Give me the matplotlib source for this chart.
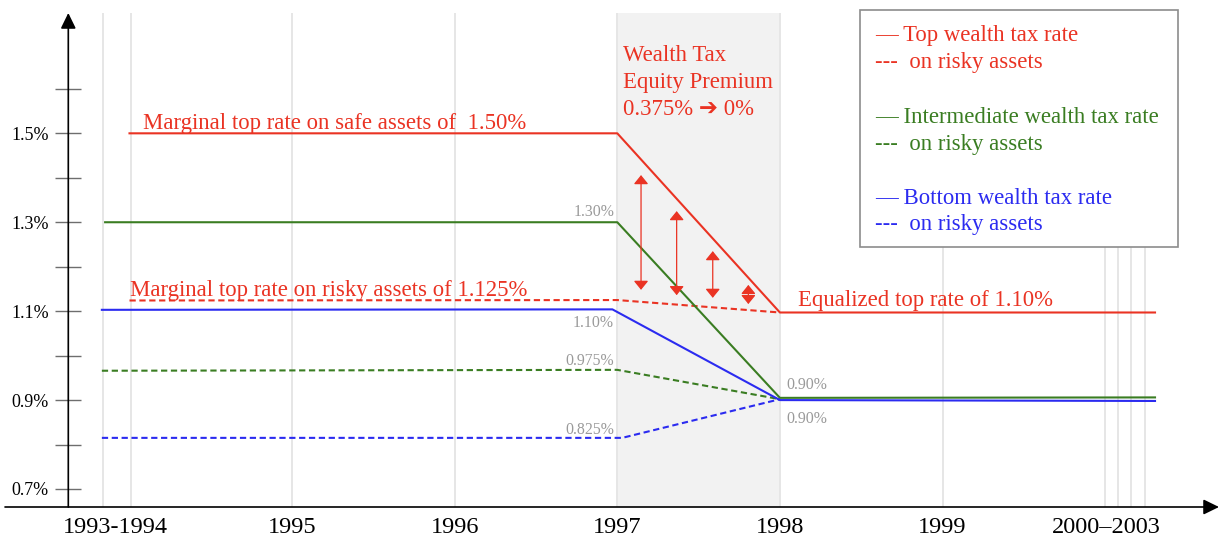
import matplotlib
matplotlib.use("Agg")
import matplotlib.pyplot as plt
from matplotlib.patches import Rectangle

plt.rcParams.update({
    "font.family": ["Liberation Serif", "DejaVu Sans"],
    "lines.scale_dashes": False,
})

# ---------------- data ----------------
RED, GREEN, BLUE = "#EA3323", "#3A7D22", "#2B2BF0"
GREY_TXT = "#9a9a9a"

tick_pos = [1993.915, 1995, 1996, 1997, 1998, 1999, 2000.01]
tick_labels = ["1993-1994", "1995", "1996", "1997", "1998", "1999", "2000\u20132003"]
grid_x = [1993.835, 1994.008, 1995, 1996, 1997, 1998, 1999, 2000, 2000.08, 2000.16, 2000.243]

y_ticks = [0.7, 0.8, 0.9, 1.0, 1.1, 1.2, 1.3, 1.4, 1.5, 1.6]
y_labels = ["0.7%", "", "0.9%", "", "1.1%", "", "1.3%", "", "1.5%", ""]

top_safe_x = [1994.0, 1997.0, 1998.0, 2000.307]
top_safe_y = [1.50, 1.50, 1.097, 1.097]
top_risky_x = [1994.0, 1997.0, 1998.0]
top_risky_y = [1.124, 1.125, 1.097]

mid_safe_x = [1993.85, 1997.0, 1998.0, 2000.307]
mid_safe_y = [1.30, 1.30, 0.905, 0.906]
mid_risky_x = [1993.83, 1997.0, 1998.0]
mid_risky_y = [0.966, 0.968, 0.902]

bot_safe_x = [1993.83, 1996.97, 1998.0, 2000.307]
bot_safe_y = [1.103, 1.104, 0.900, 0.898]
bot_risky_x = [1993.83, 1997.03, 1998.0]
bot_risky_y = [0.815, 0.815, 0.902]

# equity premium arrows (x, top, bottom)
arrow_x = [1997.146, 1997.365, 1997.587, 1997.806]
arrow_top = [1.406, 1.325, 1.235, 1.159]
arrow_bot = [1.148, 1.136, 1.130, 1.116]

# ---------------- figure ----------------
W, H = 1219, 541
fig = plt.figure(figsize=(W / 100, H / 100), dpi=100)
ax_l, ax_r, ax_b, ax_t = 68.3, 1219, 507, 13
ax = fig.add_axes([ax_l / W, (H - ax_b) / H, (ax_r - ax_l) / W, (ax_b - ax_t) / H])

px_year = 162.6
x0 = 1997 + (ax_l - 617.3) / px_year
x1 = 1997 + (ax_r - 617.3) / px_year
px_pct = 444.6
y0 = 0.7 - (ax_b - 489) / px_pct
y1 = 0.7 + (489 - ax_t) / px_pct
ax.set_xlim(x0, x1)
ax.set_ylim(y0, y1)
for s in ax.spines.values():
    s.set_visible(False)

# shaded transition year and gridlines
ax.axvspan(1997, 1998, color="#f2f2f2", zorder=0, lw=0)
for gx in grid_x:
    ax.axvline(gx, color="#e6e6e6", lw=1.4, zorder=0.5)

# axes with arrows
ax.annotate("", xy=(0, 1.0), xytext=(0, 0), xycoords="axes fraction",
            arrowprops=dict(arrowstyle="-|>,head_length=0.47,head_width=0.23",
                            mutation_scale=20, color="black", lw=1.2,
                            shrinkA=0, shrinkB=0), annotation_clip=False)
ax.annotate("", xy=(1.0, 0), xytext=((5 - ax_l) / (ax_r - ax_l), 0), xycoords="axes fraction",
            arrowprops=dict(arrowstyle="-|>,head_length=0.47,head_width=0.23",
                            mutation_scale=20, color="black", lw=1.2,
                            shrinkA=0, shrinkB=0), annotation_clip=False)

ax.set_yticks(y_ticks)
ax.set_yticklabels(y_labels)
ax.tick_params(axis="y", direction="inout", length=19.4, width=1.0, color="#6e6e6e",
               labelsize=13, pad=4.4)
ax.set_xticks(tick_pos)
ax.set_xticklabels(tick_labels)
ax.tick_params(axis="x", length=0, labelsize=17.5, pad=7)

# lines
lw = 1.5
dash = (4.5, 2.6)
ax.plot(top_safe_x, top_safe_y, color=RED, lw=lw, zorder=3)
ax.plot(top_risky_x, top_risky_y, color=RED, lw=lw, ls="--", dashes=dash, zorder=3)
ax.plot(mid_safe_x, mid_safe_y, color=GREEN, lw=lw, zorder=3)
ax.plot(mid_risky_x, mid_risky_y, color=GREEN, lw=lw, ls="--", dashes=dash, zorder=3)
ax.plot(bot_safe_x, bot_safe_y, color=BLUE, lw=lw, zorder=3)
ax.plot(bot_risky_x, bot_risky_y, color=BLUE, lw=lw, ls="--", dashes=dash, zorder=3)

for xa, yt, yb in zip(arrow_x, arrow_top, arrow_bot):
    ax.annotate("", xy=(xa, yt), xytext=(xa, yb),
                arrowprops=dict(arrowstyle="<|-|>,head_length=0.27,head_width=0.22",
                                mutation_scale=20, color=RED, lw=0.9,
                                shrinkA=0, shrinkB=0), zorder=4)

# annotations
fs = 16.4
ax.text(1994.083, 1.5106, "Marginal top rate on safe assets of  1.50%", color=RED,
        fontsize=fs, va="baseline", ha="left")
ax.text(1994.003, 1.1352, "Marginal top rate on risky assets of 1.125%", color=RED,
        fontsize=fs, va="baseline", ha="left")
ax.text(1998.113, 1.1118, "Equalized top rate of 1.10%", color=RED,
        fontsize=fs, va="baseline", ha="left")
# baseline of the last line sits at the given y
ax.text(1997.037, 1.5412, "Wealth Tax\nEquity Premium\n0.375% \u2794 0%", color=RED,
        fontsize=fs, va="baseline", ha="left", linespacing=1.38)

gfs = 11.4
ax.text(1996.98, 1.314, "1.30%", color=GREY_TXT, fontsize=gfs, ha="right", va="baseline")
ax.text(1996.98, 1.0653, "1.10%", color=GREY_TXT, fontsize=gfs, ha="right", va="baseline")
ax.text(1996.98, 0.9796, "0.975%", color=GREY_TXT, fontsize=gfs, ha="right", va="baseline")
ax.text(1996.98, 0.8242, "0.825%", color=GREY_TXT, fontsize=gfs, ha="right", va="baseline")
ax.text(1998.04, 0.9251, "0.90%", color=GREY_TXT, fontsize=gfs, ha="left", va="baseline")
ax.text(1998.04, 0.8476, "0.90%", color=GREY_TXT, fontsize=gfs, ha="left", va="baseline")

# legend box (text entries, like the original)
bx0, by0, bx1, by1 = 859.7, 10.3, 1178.3, 246.5
fig.add_artist(Rectangle((bx0 / W, 1 - by1 / H), (bx1 - bx0) / W, (by1 - by0) / H,
                         transform=fig.transFigure, facecolor="white",
                         edgecolor="#8c8c8c", lw=1.2, zorder=5))
legend_rows = [
    ("\u2014 Top wealth tax rate", RED, 40.8),
    ("---  on risky assets", RED, 67.6),
    ("\u2014 Intermediate wealth tax rate", GREEN, 122.7),
    ("---  on risky assets", GREEN, 149.5),
    ("\u2014 Bottom wealth tax rate", BLUE, 204.0),
    ("---  on risky assets", BLUE, 230.4),
]
for txt, col, base in legend_rows:
    fig.text(875 / W, 1 - base / H, txt, color=col, fontsize=fs, ha="left",
             va="baseline", zorder=6)

fig.savefig("out.png", dpi=100)
